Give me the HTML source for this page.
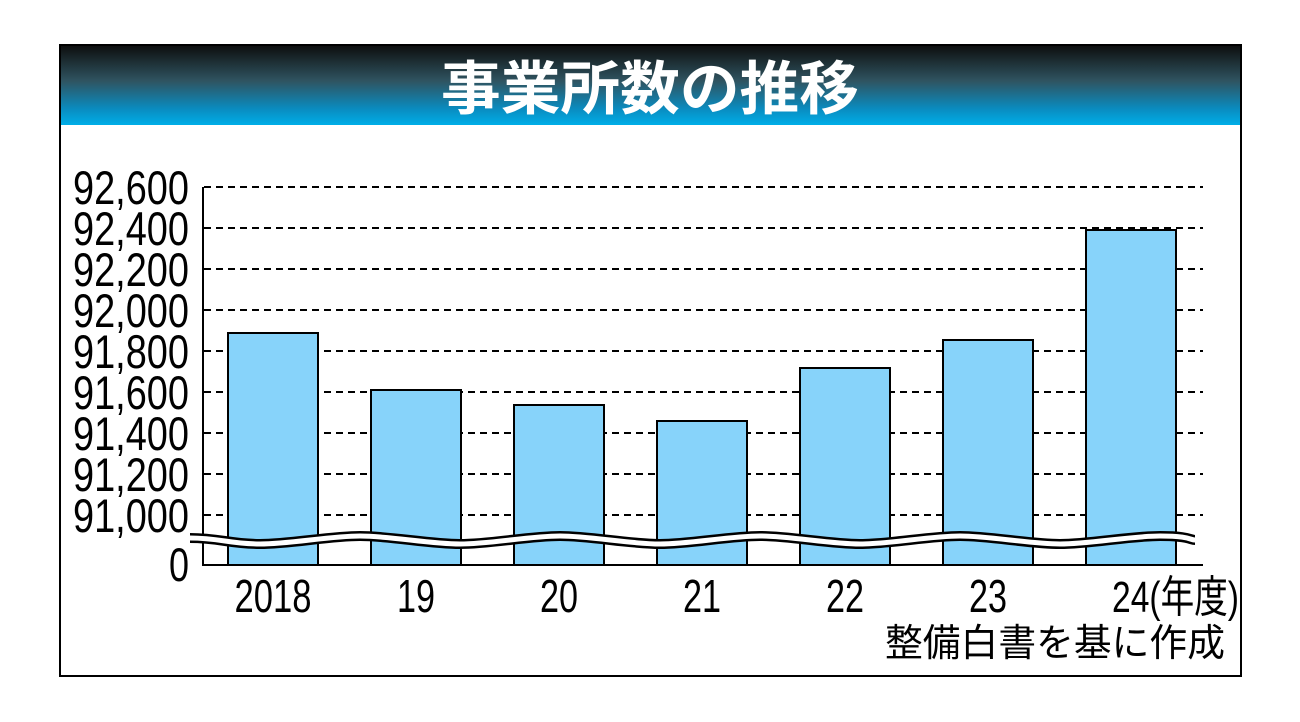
<!DOCTYPE html>
<html><head><meta charset="utf-8"><style>html,body{margin:0;padding:0;background:#fff}svg{display:block}</style></head>
<body>
<svg width="1300" height="722" viewBox="0 0 1300 722" xmlns="http://www.w3.org/2000/svg" font-family="'Liberation Sans','Noto Sans CJK JP',sans-serif">
<defs><linearGradient id="g" x1="0" y1="0" x2="0" y2="1">
<stop offset="0" stop-color="#0d0d0d"/><stop offset="0.45" stop-color="#2f5461"/><stop offset="0.8" stop-color="#0a8cc0"/><stop offset="1" stop-color="#00aee8"/></linearGradient></defs>
<rect x="0" y="0" width="1300" height="722" fill="#fff"/>
<rect x="60" y="45" width="1181" height="80" fill="url(#g)"/>
<rect x="60" y="45" width="1181" height="631" fill="none" stroke="#000" stroke-width="2"/>
<text x="650" y="109" text-anchor="middle" font-size="58" font-weight="bold" fill="#fff" textLength="418" lengthAdjust="spacingAndGlyphs">事業所数の推移</text>
<g stroke="#000" stroke-width="2" stroke-dasharray="7,5">
<line x1="204" y1="187" x2="1203" y2="187"/><line x1="204" y1="228" x2="1203" y2="228"/><line x1="204" y1="269" x2="1203" y2="269"/><line x1="204" y1="310" x2="1203" y2="310"/><line x1="204" y1="351" x2="1203" y2="351"/><line x1="204" y1="392" x2="1203" y2="392"/><line x1="204" y1="433" x2="1203" y2="433"/><line x1="204" y1="474" x2="1203" y2="474"/><line x1="204" y1="515" x2="1203" y2="515"/>
</g>
<g fill="#87d3fa" stroke="#000" stroke-width="2">
<rect x="228" y="333" width="90" height="232"/><rect x="371" y="390" width="90" height="175"/><rect x="514" y="405" width="90" height="160"/><rect x="657" y="421" width="90" height="144"/><rect x="800" y="368" width="90" height="197"/><rect x="943" y="340" width="90" height="225"/><rect x="1086" y="230" width="90" height="335"/>
</g>
<path d="M203 187 V565 H1203" fill="none" stroke="#000" stroke-width="2"/>
<g fill="none">
<path d="M190 538 C 220 538, 230 544, 260 544 S 330 536, 360 536 S 430 544, 460 544 S 530 536, 560 536 S 630 544, 660 544 S 730 536, 760 536 S 830 544, 860 544 S 930 536, 960 536 S 1030 544, 1060 544 S 1130 536, 1160 536 S 1190 540, 1195 540" stroke="#000" stroke-width="10"/>
<path d="M190 538 C 220 538, 230 544, 260 544 S 330 536, 360 536 S 430 544, 460 544 S 530 536, 560 536 S 630 544, 660 544 S 730 536, 760 536 S 830 544, 860 544 S 930 536, 960 536 S 1030 544, 1060 544 S 1130 536, 1160 536 S 1190 540, 1195 540" stroke="#fff" stroke-width="5"/>
</g>
<g font-size="47" fill="#000" text-anchor="end">
<text x="189" y="204" textLength="116" lengthAdjust="spacingAndGlyphs">92,600</text>
<text x="189" y="245" textLength="116" lengthAdjust="spacingAndGlyphs">92,400</text>
<text x="189" y="286" textLength="116" lengthAdjust="spacingAndGlyphs">92,200</text>
<text x="189" y="327" textLength="116" lengthAdjust="spacingAndGlyphs">92,000</text>
<text x="189" y="368" textLength="116" lengthAdjust="spacingAndGlyphs">91,800</text>
<text x="189" y="409" textLength="116" lengthAdjust="spacingAndGlyphs">91,600</text>
<text x="189" y="450" textLength="116" lengthAdjust="spacingAndGlyphs">91,400</text>
<text x="189" y="491" textLength="116" lengthAdjust="spacingAndGlyphs">91,200</text>
<text x="189" y="532" textLength="116" lengthAdjust="spacingAndGlyphs">91,000</text>
<text x="189" y="581" textLength="20" lengthAdjust="spacingAndGlyphs">0</text>
</g>
<g font-size="46" fill="#000" text-anchor="middle">
<text x="273" y="612" textLength="77" lengthAdjust="spacingAndGlyphs">2018</text>
<text x="416" y="612" textLength="38" lengthAdjust="spacingAndGlyphs">19</text>
<text x="559" y="612" textLength="38" lengthAdjust="spacingAndGlyphs">20</text>
<text x="702" y="612" textLength="38" lengthAdjust="spacingAndGlyphs">21</text>
<text x="845" y="612" textLength="38" lengthAdjust="spacingAndGlyphs">22</text>
<text x="988" y="612" textLength="38" lengthAdjust="spacingAndGlyphs">23</text>
</g>
<text x="1112" y="612" font-size="44" textLength="127" lengthAdjust="spacingAndGlyphs">24(年度)</text>
<text x="885" y="656" font-size="38" textLength="340" lengthAdjust="spacingAndGlyphs">整備白書を基に作成</text>
</svg>
</body></html>
